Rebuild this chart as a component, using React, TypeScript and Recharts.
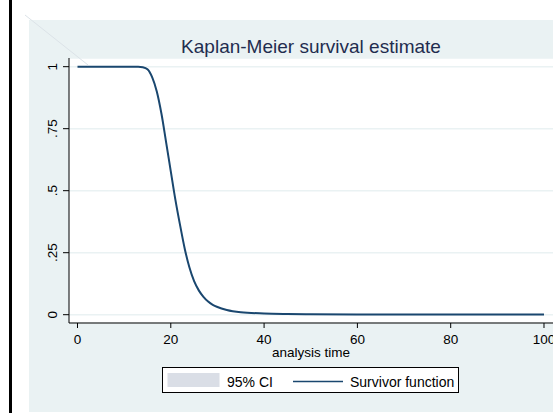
import React from "react";
import { ComposedChart, Line, Area, XAxis, YAxis, CartesianGrid } from "recharts";

const times = [0, 5, 10, 13, 14, 15, 16, 17, 18, 19, 20, 21, 22, 23, 24, 25, 26, 27, 28, 29, 30, 32, 35, 40, 45, 50, 60, 70, 80, 90, 100];
const survival = [1, 1, 1, 1, 0.998, 0.99, 0.958, 0.9, 0.81, 0.695, 0.578, 0.462, 0.36, 0.265, 0.19, 0.135, 0.098, 0.072, 0.053, 0.04, 0.031, 0.019, 0.01, 0.005, 0.003, 0.002, 0.001, 0.001, 0.001, 0.001, 0.001];
const ciLower = [1, 1, 1, 1, 0.996, 0.986, 0.952, 0.893, 0.802, 0.686, 0.569, 0.453, 0.352, 0.258, 0.184, 0.13, 0.094, 0.069, 0.05, 0.038, 0.029, 0.018, 0.009, 0.004, 0.002, 0.001, 0.0, 0.0, 0.0, 0.0, 0.0];
const ciUpper = [1, 1, 1, 1, 0.999, 0.993, 0.963, 0.906, 0.818, 0.704, 0.587, 0.471, 0.368, 0.272, 0.196, 0.14, 0.102, 0.075, 0.056, 0.042, 0.033, 0.02, 0.011, 0.006, 0.004, 0.003, 0.002, 0.002, 0.002, 0.002, 0.002];

const xTicks = [0, 20, 40, 60, 80, 100];
const yTicks = [0, 0.25, 0.5, 0.75, 1];
const yTickLabels = ["0", ".25", ".5", ".75", "1"];

const titleText = "Kaplan-Meier survival estimate";
const xLabel = "analysis time";
const legendCI = "95% CI";
const legendSurv = "Survivor function";

const data = times.map((t, i) => ({
  t,
  s: survival[i],
  ci: [ciLower[i], ciUpper[i]],
}));

const FONT = "'Liberation Sans', Arial, Helvetica, sans-serif";
const BG = "#EAF2F3";
const NAVY = "#1A476F";

const YTick = (props: any) => {
  const { x, y, payload } = props;
  const idx = yTicks.indexOf(payload.value);
  const label = idx >= 0 ? yTickLabels[idx] : String(payload.value);
  const bx = x - 4;
  return (
    <text
      x={bx}
      y={y}
      transform={`rotate(-90, ${bx}, ${y})`}
      textAnchor="middle"
      fontSize={13.5}
      fontFamily={FONT}
      fill="#000"
    >
      {label}
    </text>
  );
};

const XTick = (props: any) => {
  const { x, y, payload } = props;
  return (
    <text x={x} y={y + 14} textAnchor="middle" fontSize={13.5} fontFamily={FONT} fill="#000">
      {payload.value}
    </text>
  );
};

export default function App() {
  return (
    <div style={{ position: "absolute", left: 0, top: 0, width: 553, height: 413, background: "#fff", overflow: "hidden" }}>
      <svg width={553} height={413} style={{ position: "absolute", left: 0, top: 0 }}>
        <rect x={9} y={0} width={3} height={413} fill="#000" />
        <rect x={29} y={20} width={524} height={392} fill={BG} />
        <text x={311} y={53} textAnchor="middle" fontSize={19} fontFamily={FONT} fill="#1f2d4f">
          {titleText}
        </text>
      </svg>
      <div style={{ position: "absolute", left: 0, top: 0 }}>
        <ComposedChart
          width={553}
          height={413}
          data={data}
          margin={{ top: 58, right: 0, left: 29, bottom: 60 }}
        >
          <CartesianGrid horizontal vertical={false} stroke={BG} strokeWidth={1.5} fill="#fff" fillOpacity={1} />
          <XAxis
            dataKey="t"
            type="number"
            domain={[-1.82, 101.93]}
            ticks={xTicks}
            allowDataOverflow
            height={30}
            tickSize={5}
            stroke="#000"
            tickLine={{ stroke: "#000" }}
            axisLine={{ stroke: "#000" }}
            tick={<XTick />}
            interval={0}
          />
          <YAxis
            type="number"
            domain={[-0.0335, 1.035]}
            ticks={yTicks}
            allowDataOverflow
            width={40}
            tickSize={6}
            stroke="#000"
            tickLine={{ stroke: "#000" }}
            axisLine={{ stroke: "#000" }}
            tick={<YTick />}
            interval={0}
          />
          <Area
            dataKey="ci"
            type="monotone"
            stroke="none"
            fill="#DADEE6"
            fillOpacity={1}
            isAnimationActive={false}
            activeDot={false}
          />
          <Line
            dataKey="s"
            type="monotone"
            stroke={NAVY}
            strokeWidth={2}
            dot={false}
            activeDot={false}
            isAnimationActive={false}
          />
        </ComposedChart>
      </div>
      <svg width={553} height={413} style={{ position: "absolute", left: 0, top: 0, pointerEvents: "none" }}>
        <line x1={25} y1={15} x2={88} y2={65} stroke="#DCE3E8" strokeWidth={1} />
        <text x={311} y={356.5} textAnchor="middle" fontSize={13.5} fontFamily={FONT} fill="#000">
          {xLabel}
        </text>
        <rect x={162.5} y={367.5} width={296} height={25} fill="#fff" stroke="#000" strokeWidth={1} />
        <rect x={167.5} y={373} width={52} height={14} fill="#DADEE6" />
        <text x={227} y={386.5} fontSize={14} fontFamily={FONT} fill="#000">
          {legendCI}
        </text>
        <line x1={293} y1={381.5} x2={343} y2={381.5} stroke={NAVY} strokeWidth={1.5} />
        <text x={350} y={386.5} fontSize={14} fontFamily={FONT} fill="#000">
          {legendSurv}
        </text>
      </svg>
    </div>
  );
}
